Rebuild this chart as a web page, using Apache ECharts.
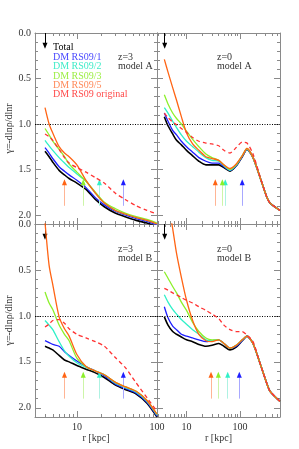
<!DOCTYPE html>
<html><head><meta charset="utf-8">
<script src="https://cdn.jsdelivr.net/npm/echarts@6/dist/echarts.min.js"></script>
<style>html,body{margin:0;padding:0;background:#fff}#c{width:299px;height:449px}</style>
</head><body><div id="c"></div>
<script>
// ---------- data ----------
const rLeft  = [4,4.5,5,6,7,8,10,13,17,22,30,40,55,75,100];
const rRight = [3.84,4.5,5.5,6.5,8,10,13,17,23,30,40,50,65,85,110,135,175,235,315,365,560];

// top-left: z=3 model A
const tlTotal = [1.30,1.36,1.42,1.51,1.56,1.60,1.65,1.72,1.83,1.91,1.98,2.02,2.06,2.09,2.13];
const tlRS1   = [1.26,1.32,1.38,1.47,1.52,1.56,1.62,1.70,1.81,1.89,1.96,2.00,2.04,2.07,2.11];
const tlRS2   = [1.18,1.24,1.29,1.37,1.43,1.48,1.55,1.63,1.76,1.87,1.95,1.99,2.03,2.06,2.10];
const tlRS3   = [1.05,1.12,1.19,1.28,1.36,1.44,1.53,1.63,1.75,1.86,1.93,1.98,2.02,2.05,2.09];
const tlRS5   = [0.82,1.00,1.10,1.25,1.32,1.36,1.45,1.62,1.76,1.87,1.95,1.99,2.03,2.06,2.10];
const tlOrig  = [1.11,1.14,1.18,1.28,1.37,1.43,1.48,1.53,1.59,1.65,1.76,1.83,1.90,1.95,1.99];

// top-right: z=0 model A
const trTotal = [0.92,1.02,1.11,1.18,1.23,1.29,1.35,1.41,1.45,1.45,1.45,1.48,1.52,1.46,1.36,1.28,1.37,1.58,1.80,1.87,1.95];
const trRS1   = [0.88,0.97,1.07,1.12,1.19,1.25,1.31,1.37,1.41,1.43,1.43,1.47,1.51,1.46,1.36,1.28,1.37,1.58,1.80,1.87,1.95];
const trRS2   = [0.82,0.88,0.97,1.04,1.12,1.19,1.25,1.31,1.37,1.40,1.41,1.46,1.51,1.45,1.35,1.28,1.37,1.58,1.80,1.87,1.95];
const trRS3   = [0.68,0.78,0.88,0.94,1.00,1.08,1.17,1.25,1.33,1.37,1.40,1.45,1.50,1.45,1.35,1.27,1.37,1.58,1.80,1.87,1.95];
const trRS5   = [0.29,0.43,0.60,0.74,0.92,1.10,1.22,1.29,1.36,1.38,1.40,1.45,1.49,1.44,1.35,1.27,1.37,1.58,1.80,1.87,1.95];
const trOrig  = [0.88,0.93,0.98,1.01,1.05,1.09,1.15,1.19,1.21,1.22,1.24,1.29,1.32,1.26,1.20,1.21,1.33,1.57,1.80,1.87,1.95];

// bottom-left: z=3 model B
const blTotal = [1.33,1.35,1.37,1.43,1.48,1.50,1.54,1.58,1.62,1.67,1.75,1.80,1.85,1.95,2.10];
const blRS1   = [1.27,1.29,1.31,1.33,1.39,1.43,1.49,1.55,1.60,1.65,1.74,1.79,1.84,1.94,2.09];
const blRS2   = [1.05,1.10,1.15,1.28,1.38,1.44,1.51,1.56,1.60,1.64,1.73,1.78,1.83,1.93,2.08];
const blRS3   = [0.74,0.86,0.93,1.10,1.20,1.27,1.46,1.55,1.60,1.64,1.72,1.77,1.82,1.92,2.07];
const blRS5   = [-0.02,0.45,0.66,1.01,1.14,1.22,1.42,1.55,1.60,1.64,1.72,1.77,1.82,1.92,2.07];
const blOrig  = [1.12,1.09,1.05,1.04,1.08,1.14,1.20,1.24,1.28,1.33,1.45,1.56,1.73,1.89,2.04];

// bottom-right: z=0 model B
const brTotal = [1.01,1.10,1.17,1.20,1.23,1.26,1.28,1.31,1.33,1.32,1.30,1.33,1.37,1.34,1.27,1.22,1.30,1.51,1.73,1.82,1.93];
const brRS1   = [0.90,1.02,1.11,1.15,1.20,1.22,1.24,1.26,1.28,1.27,1.26,1.30,1.35,1.33,1.27,1.22,1.30,1.51,1.73,1.82,1.93];
const brRS2   = [0.77,0.85,0.93,0.98,1.04,1.09,1.15,1.20,1.26,1.27,1.26,1.30,1.35,1.32,1.26,1.22,1.30,1.51,1.73,1.82,1.93];
const brRS3   = [0.52,0.59,0.68,0.75,0.85,0.94,1.07,1.17,1.24,1.26,1.26,1.30,1.35,1.32,1.26,1.22,1.30,1.51,1.73,1.82,1.93];
const brRS5   = [-0.50,-0.25,0.05,0.32,0.58,0.83,1.05,1.20,1.27,1.28,1.26,1.30,1.35,1.32,1.26,1.22,1.30,1.51,1.73,1.82,1.93];
const brOrig  = [0.70,0.72,0.75,0.77,0.80,0.83,0.86,0.90,0.94,0.98,1.03,1.10,1.15,1.17,1.17,1.21,1.28,1.51,1.73,1.82,1.93];

// arrow radii: [RS09/5, RS09/3, RS09/2, RS09/1]
const tlArrowR = [7.0, 12.0, 19.1, 38];
const trArrowR = [34.5, 46.7, 53, 110];
const blArrowR = [7.0, 12.0, 19.1, 38];
const brArrowR = [28.7, 39.3, 58.9, 97];
const totalArrowR = [4.0, 3.9, 4.0, 3.9];

const yMajor = [0, 0.5, 1.0, 1.5, 2.0];
const xMajorVals = [10, 100];
const legendNames = ['Total', 'DM RS09/1', 'DM RS09/2', 'DM RS09/3', 'DM RS09/5', 'DM RS09 original'];
const panelLabels = [['z=3','model A'],['z=0','model A'],['z=3','model B'],['z=0','model B']];

// ---------- styling / layout ----------
const FONT = '"Liberation Serif", "Times New Roman", serif';
const frameColor = '#8a8a8a';
const textColor = '#333';
const lineColors = {total:'#000000', rs1:'#1e1eff', rs2:'#30f0c8', rs3:'#8cf02a', rs5:'#ff6414', orig:'#ff3333'};
const legendColors = ['#000000', '#4a4aff', '#40ecc8', '#9cee44', '#ff8a5a', '#ff4a4a'];
const arrowPale = {rs5:'#ffb595', rs3:'#cdf5a8', rs2:'#aef2e2', rs1:'#a8a8ff'};

const panels = [
  {left:35,  top:33,  width:122, height:191, xmin:3,   xmax:100, leftLab:true,  botLab:false, r:rLeft,
   d:{total:tlTotal, rs1:tlRS1, rs2:tlRS2, rs3:tlRS3, rs5:tlRS5, orig:tlOrig}, arr:tlArrowR},
  {left:157, top:33,  width:123, height:191, xmin:2.8, xmax:560, leftLab:false, botLab:false, r:rRight,
   d:{total:trTotal, rs1:trRS1, rs2:trRS2, rs3:trRS3, rs5:trRS5, orig:trOrig}, arr:trArrowR},
  {left:35,  top:224, width:122, height:193, xmin:3,   xmax:100, leftLab:true,  botLab:true, r:rLeft,
   d:{total:blTotal, rs1:blRS1, rs2:blRS2, rs3:blRS3, rs5:blRS5, orig:blOrig}, arr:blArrowR},
  {left:157, top:224, width:123, height:193, xmin:2.8, xmax:560, leftLab:false, botLab:true, r:rRight,
   d:{total:brTotal, rs1:brRS1, rs2:brRS2, rs3:brRS3, rs5:brRS5, orig:brOrig}, arr:brArrowR}
];

function minorLogTicks(xmin, xmax) {
  const out = [];
  for (let dec = 1; dec <= 100; dec *= 10) {
    for (let m = 2; m <= 9; m++) {
      const v = m * dec;
      if (v >= xmin && v <= xmax && v !== 10 && v !== 100) out.push(Math.log10(v));
    }
  }
  return out;
}
const yMinor = [];
for (let k = 1; k <= 21; k++) { if (k % 5 !== 0) yMinor.push(k / 10); }

const grids = [], xAxes = [], yAxes = [], series = [];

panels.forEach((p, pi) => {
  const rect = {left:p.left, top:p.top, width:p.width, height:p.height, containLabel:false, outerBoundsMode:'none'};
  const gD = grids.length; grids.push({...rect});
  const gM = grids.length; grids.push({...rect});
  const gm = grids.length; grids.push({...rect});
  const lmin = Math.log10(p.xmin), lmax = Math.log10(p.xmax);
  const xMaj = xMajorVals.filter(v => v >= p.xmin && v <= p.xmax).map(v => Math.log10(v));
  const xMin = minorLogTicks(p.xmin, p.xmax);

  // data axes (hidden)
  const xi = xAxes.length;
  xAxes.push({type:'log', logBase:10, min:p.xmin, max:p.xmax, gridIndex:gD, show:false});
  const yi = yAxes.length;
  yAxes.push({type:'value', inverse:true, min:0, max:2.1, gridIndex:gD, show:false});

  const lbl = {fontFamily:FONT, fontSize:10, color:textColor};
  const mkX = (g, pos, ticks, len, showLine, labels) => ({
    type:'value', gridIndex:g, position:pos, min:lmin, max:lmax,
    axisLine:{show:showLine, onZero:false, lineStyle:{color:frameColor, width:1}},
    axisTick:{show:true, inside:true, length:len, customValues:ticks, lineStyle:{color:frameColor, width:1}},
    axisLabel:labels ? {show:true, customValues:ticks, margin:5, formatter:v => String(Math.round(Math.pow(10, v))), ...lbl} : {show:false},
    splitLine:{show:false},
    name: labels ? 'r [kpc]' : '', nameLocation:'middle', nameGap:16,
    nameTextStyle:{fontFamily:FONT, fontSize:10, color:textColor}
  });
  const mkY = (g, pos, ticks, len, showLine, labels) => ({
    type:'value', gridIndex:g, position:pos, inverse:true, min:0, max:2.1,
    axisLine:{show:showLine, onZero:false, lineStyle:{color:frameColor, width:1}},
    axisTick:{show:true, inside:true, length:len, customValues:ticks, lineStyle:{color:frameColor, width:1}},
    axisLabel:labels ? {show:true, customValues:ticks, margin:4, formatter:v => v.toFixed(1), ...lbl} : {show:false},
    splitLine:{show:false},
    name: labels ? 'γ=-dlnρ/dlnr' : '', nameLocation:'middle', nameGap:18, nameRotate:90,
    nameTextStyle:{fontFamily:FONT, fontSize:10, color:textColor}
  });
  xAxes.push(mkX(gM, 'bottom', xMaj, 6, true, p.botLab));
  xAxes.push(mkX(gM, 'top', xMaj, 6, true, false));
  yAxes.push(mkY(gM, 'left', yMajor, 6, true, p.leftLab));
  yAxes.push(mkY(gM, 'right', yMajor, 6, true, false));
  xAxes.push(mkX(gm, 'bottom', xMin, 3, false, false));
  xAxes.push(mkX(gm, 'top', xMin, 3, false, false));
  yAxes.push(mkY(gm, 'left', yMinor, 3, false, false));
  yAxes.push(mkY(gm, 'right', yMinor, 3, false, false));

  const order = ['total', 'rs1', 'rs2', 'rs3', 'rs5', 'orig'];
  const arrowKey = ['rs5', 'rs3', 'rs2', 'rs1'];
  order.forEach((key, si) => {
    const vals = p.d[key];
    const s = {
      type:'line', xAxisIndex:xi, yAxisIndex:yi, silent:true, animation:false,
      data: p.r.map((r, k) => [r, vals[k]]),
      showSymbol:false, symbol:'none', smooth:0.25, clip:true, z:2 + si,
      lineStyle:{color:lineColors[key], width:key === 'total' ? 1.6 : 1.3, type:key === 'orig' ? [4, 3] : 'solid'}
    };
    if (key === 'total') {
      const rt = totalArrowR[pi];
      s.markLine = {silent:true, symbol:['none','none'], animation:false, label:{show:false},
        data:[
          {yAxis:1.0, lineStyle:{color:'#000', width:1, type:[1, 1.5]}},
          [{coord:[rt, 0], lineStyle:{color:'#000', width:1, type:'solid'}}, {coord:[rt, 0.12]}]
        ]};
      s.markPoint = {silent:true, animation:false, symbol:'triangle', symbolSize:[5,6], symbolRotate:180,
        label:{show:false}, itemStyle:{color:'#000'}, data:[{coord:[rt, 0.14]}]};
    }
    const ai = arrowKey.indexOf(key);
    if (ai >= 0) {
      const ra = p.arr[ai];
      s.markLine = {silent:true, symbol:['none','none'], animation:false, label:{show:false},
        data:[[{coord:[ra, 1.90], lineStyle:{color:arrowPale[key], width:1, type:'solid'}}, {coord:[ra, 1.64]}]]};
      s.markPoint = {silent:true, animation:false, symbol:'triangle', symbolSize:[5,6],
        label:{show:false}, itemStyle:{color:lineColors[key]}, data:[{coord:[ra, 1.64]}]};
    }
    series.push(s);
  });
});

// ---------- text ----------
const graphic = [];
const legendY = [47, 57, 66.5, 76, 85.5, 94];
legendNames.forEach((t, i) => {
  graphic.push({type:'text', x:53, y:legendY[i], silent:true,
    style:{text:t, fill:legendColors[i], font:'10px ' + FONT, verticalAlign:'middle'}});
});
const labelPos = [[118, 57], [217, 57], [118, 249], [217, 249]];
panelLabels.forEach((pl, i) => {
  pl.forEach((t, j) => {
    graphic.push({type:'text', x:labelPos[i][0], y:labelPos[i][1] + j * 9.8, silent:true,
      style:{text:t, fill:textColor, font:'10px ' + FONT, verticalAlign:'middle'}});
  });
});

const chart = echarts.init(document.getElementById('c'), null, {renderer:'canvas'});
chart.setOption({
  animation:false,
  backgroundColor:'#ffffff',
  grid:grids, xAxis:xAxes, yAxis:yAxes, series:series, graphic:graphic
});
</script>
</body></html>
